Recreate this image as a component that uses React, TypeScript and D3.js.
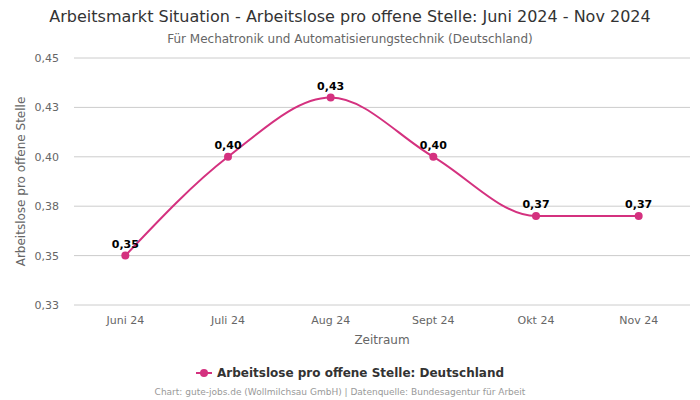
import React from "react";
import * as d3 from "d3";

const categories = ["Juni 24", "Juli 24", "Aug 24", "Sept 24", "Okt 24", "Nov 24"];
const values = [0.35, 0.40, 0.43, 0.40, 0.37, 0.37];
const yTicks = [0.325, 0.35, 0.375, 0.4, 0.425, 0.45];

const W = 700, H = 400;
const M = { left: 74, right: 690, top: 58, bottom: 305 };
const COLOR = "#d4317f";
const FONT = "DejaVu Sans, sans-serif";

const fmt = (v: number) => (Math.round(v * 100 + 1e-7) / 100).toFixed(2).replace(".", ",");

export default function App() {
  const x = d3.scalePoint<string>().domain(categories).range([M.left, M.right]).padding(0.5);
  const y = d3.scaleLinear().domain([0.325, 0.45]).range([M.bottom, M.top]);
  const line = d3
    .line<number>()
    .x((_, i) => x(categories[i])!)
    .y((d) => y(d))
    .curve(d3.curveMonotoneX);

  return (
    <svg width={W} height={H} style={{ position: "absolute", left: 0, top: 0, fontFamily: FONT }}>
      <rect width={W} height={H} fill="#fff" />
      <text x={350} y={22} textAnchor="middle" fontSize={16} fill="#333">
        Arbeitsmarkt Situation - Arbeitslose pro offene Stelle: Juni 2024 - Nov 2024
      </text>
      <text x={350} y={43} textAnchor="middle" fontSize={12} fill="#666">
        Für Mechatronik und Automatisierungstechnik (Deutschland)
      </text>
      {yTicks.map((t) => (
        <g key={t}>
          <line x1={M.left} x2={M.right} y1={y(t)} y2={y(t)} stroke="#ccc" strokeWidth={1} />
          <text x={59} y={y(t) + 4} textAnchor="end" fontSize={11} fill="#666">
            {fmt(t)}
          </text>
        </g>
      ))}
      <text
        transform={`translate(25,${(M.top + M.bottom) / 2}) rotate(-90)`}
        textAnchor="middle"
        fontSize={12}
        fill="#666"
      >
        Arbeitslose pro offene Stelle
      </text>
      {categories.map((c) => (
        <text key={c} x={x(c)} y={324} textAnchor="middle" fontSize={11} fill="#666">
          {c}
        </text>
      ))}
      <text x={382} y={344} textAnchor="middle" fontSize={12} fill="#666">
        Zeitraum
      </text>
      <path d={line(values)!} fill="none" stroke={COLOR} strokeWidth={2} />
      {values.map((v, i) => (
        <g key={i}>
          <circle cx={x(categories[i])} cy={y(v)} r={4} fill={COLOR} />
          <text
            x={x(categories[i])}
            y={y(v) - 8}
            textAnchor="middle"
            fontSize={11}
            fontWeight="bold"
            fill="#000"
          >
            {fmt(v)}
          </text>
        </g>
      ))}
      <g>
        <line x1={196} x2={212} y1={373} y2={373} stroke={COLOR} strokeWidth={2} />
        <circle cx={204} cy={373} r={4} fill={COLOR} />
        <text x={217} y={377} fontSize={12} fontWeight="bold" fill="#333">
          Arbeitslose pro offene Stelle: Deutschland
        </text>
      </g>
      <text x={340} y={395} textAnchor="middle" fontSize={9} fill="#999">
        Chart: gute-jobs.de (Wollmilchsau GmbH) | Datenquelle: Bundesagentur für Arbeit
      </text>
    </svg>
  );
}
